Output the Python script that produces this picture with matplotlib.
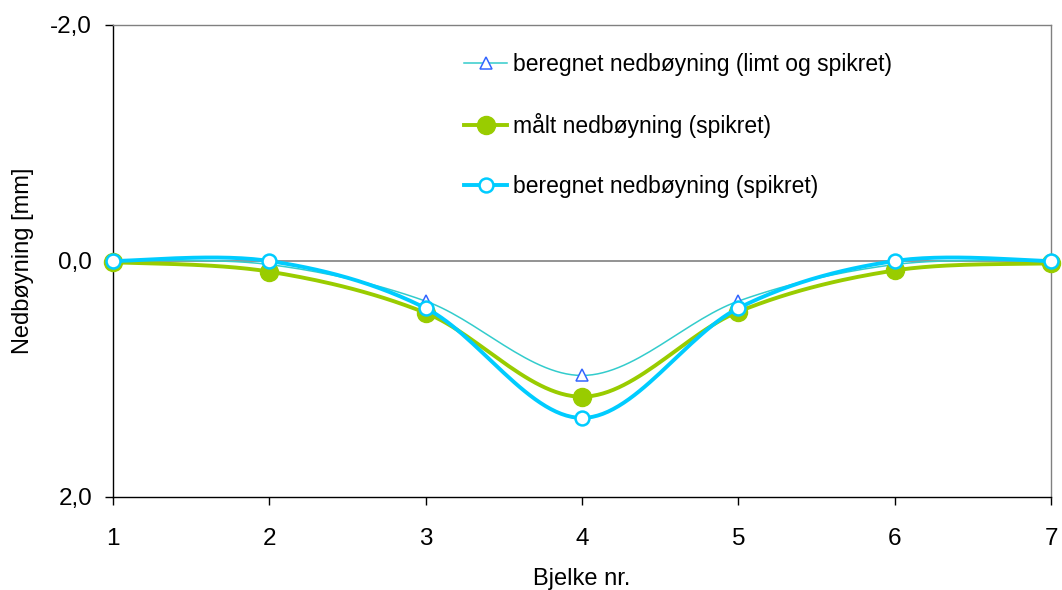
import numpy as np
import matplotlib
matplotlib.use("Agg")
import matplotlib.pyplot as plt
from matplotlib.ticker import FixedLocator, FuncFormatter

plt.rcParams['font.family'] = ['Liberation Sans', 'DejaVu Sans']

beams = [1, 2, 3, 4, 5, 6, 7]
calc_glued_nailed = [0.0, 0.03, 0.34, 0.97, 0.34, 0.03, 0.0]
measured_nailed = [0.01, 0.09, 0.44, 1.15, 0.43, 0.08, 0.02]
calc_nailed = [0.0, 0.0, 0.40, 1.33, 0.40, 0.0, 0.0]

labels = ["beregnet nedbøyning (limt og spikret)",
          "målt nedbøyning (spikret)",
          "beregnet nedbøyning (spikret)"]

N = 30


def smooth(xs, ys, n=N):
    """Excel-like smoothed line (cubic Bezier with Catmull-Rom tangents)."""
    xs = np.asarray(xs, float)
    ys = np.asarray(ys, float)
    m = len(xs)
    px, py = [], []
    for i in range(m - 1):
        p0 = np.array([xs[max(i - 1, 0)], ys[max(i - 1, 0)]])
        p1 = np.array([xs[i], ys[i]])
        p2 = np.array([xs[i + 1], ys[i + 1]])
        p3 = np.array([xs[min(i + 2, m - 1)], ys[min(i + 2, m - 1)]])
        c1 = p1 + (p2 - p0) / 6.0
        c2 = p2 - (p3 - p1) / 6.0
        t = np.linspace(0, 1, n, endpoint=False)[:, None]
        pts = ((1 - t) ** 3) * p1 + 3 * ((1 - t) ** 2) * t * c1 + 3 * (1 - t) * t ** 2 * c2 + t ** 3 * p2
        px.extend(pts[:, 0]); py.extend(pts[:, 1])
    px.append(xs[-1]); py.append(ys[-1])
    return np.array(px), np.array(py)


fig = plt.figure(figsize=(10.62, 5.90), dpi=100)
ax = fig.add_axes([113 / 1062, 1 - 497 / 590, (1051 - 113) / 1062, (497 - 25) / 590])

ax.axhline(0, color='#808080', lw=1.2, zorder=1)

marks = [i * N for i in range(len(beams))]

x1, y1 = smooth(beams, calc_glued_nailed)
ax.plot(x1, y1, color='#33CCCC', lw=1.1, marker='^', markevery=marks,
        markersize=8, markerfacecolor='white', markeredgecolor='#3366FF',
        markeredgewidth=1.1, label=labels[0], zorder=3, clip_on=False)

x2, y2 = smooth(beams, measured_nailed)
ax.plot(x2, y2, color='#99CC00', lw=2.8, marker='o', markevery=marks,
        markersize=13, markerfacecolor='#99CC00', markeredgecolor='#99CC00',
        label=labels[1], zorder=4, clip_on=False)

x3, y3 = smooth(beams, calc_nailed)
ax.plot(x3, y3, color='#00CCFF', lw=2.8, marker='o', markevery=marks,
        markersize=10, markerfacecolor='white', markeredgecolor='#00CCFF',
        markeredgewidth=1.8, label=labels[2], zorder=5, clip_on=False)

ax.set_xlim(1, 7)
ax.set_ylim(2, -2)
ax.yaxis.set_major_locator(FixedLocator([-2, 0, 2]))
ax.yaxis.set_major_formatter(FuncFormatter(lambda v, p: f"{v:.1f}".replace('.', ',')))
ax.set_xticks(beams)
ax.set_xticklabels([str(b) for b in beams])

for s in ['top', 'right']:
    ax.spines[s].set_color('#808080')
    ax.spines[s].set_linewidth(1.0)
for s in ['left', 'bottom']:
    ax.spines[s].set_color('black')
    ax.spines[s].set_linewidth(1.0)

ax.tick_params(axis='both', direction='out', length=6, width=1, labelsize=17.5,
               colors='black')
ax.tick_params(axis='x', pad=16)
ax.tick_params(axis='y', pad=9)

ax.set_xlabel("Bjelke nr.", fontsize=17)
ax.set_ylabel("Nedbøyning [mm]", fontsize=17)
ax.xaxis.set_label_coords(0.5, (497 - 568) / 472)
ax.yaxis.set_label_coords((34 - 113) / 938, 0.5)

leg = ax.legend(loc='upper left', bbox_to_anchor=(453 / 1062, 1 - 42 / 590),
                bbox_transform=fig.transFigure, frameon=False, fontsize=16.5,
                handlelength=1.85, handletextpad=0.25, labelspacing=1.6,
                borderpad=0)

fig.savefig("out.png", dpi=100)
